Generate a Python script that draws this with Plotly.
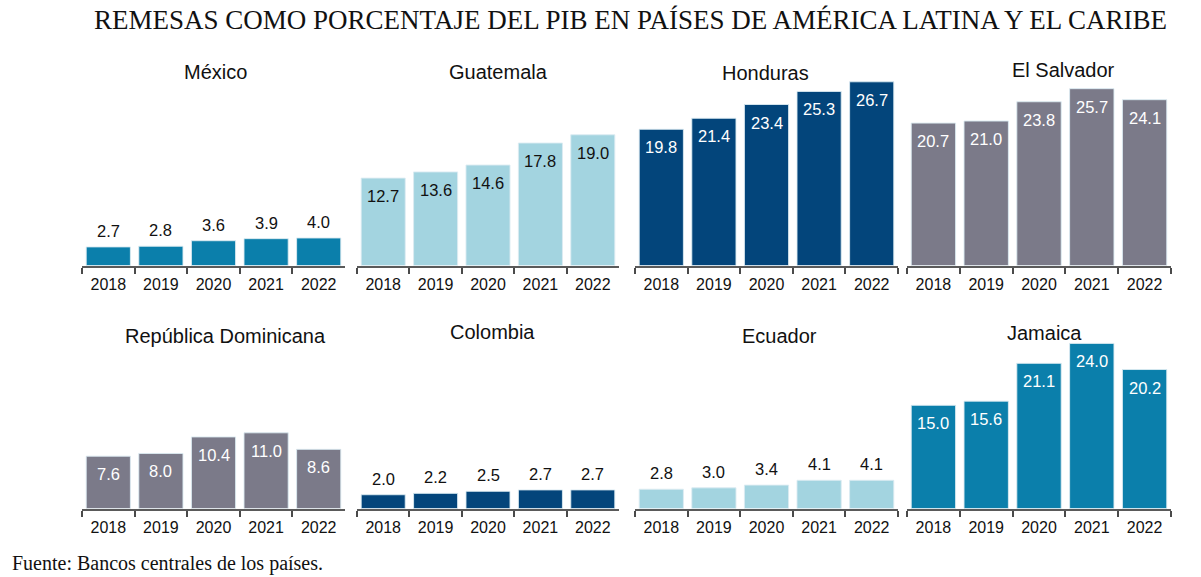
import plotly.graph_objects as go

W, H = 1201, 577

years = ["2018", "2019", "2020", "2021", "2022"]
countries = ["México", "Guatemala", "Honduras", "El Salvador",
             "República Dominicana", "Colombia", "Ecuador", "Jamaica"]
mexico = [2.7, 2.8, 3.6, 3.9, 4.0]
guatemala = [12.7, 13.6, 14.6, 17.8, 19.0]
honduras = [19.8, 21.4, 23.4, 25.3, 26.7]
el_salvador = [20.7, 21.0, 23.8, 25.7, 24.1]
rep_dominicana = [7.6, 8.0, 10.4, 11.0, 8.6]
colombia = [2.0, 2.2, 2.5, 2.7, 2.7]
ecuador = [2.8, 3.0, 3.4, 4.1, 4.1]
jamaica = [15.0, 15.6, 21.1, 24.0, 20.2]
series = [mexico, guatemala, honduras, el_salvador,
          rep_dominicana, colombia, ecuador, jamaica]

TEAL = "#0b7fab"
LIGHT = "#a3d4e0"
NAVY = "#03457b"
GRAY = "#7b7a89"
colors = [TEAL, LIGHT, NAVY, GRAY, GRAY, NAVY, LIGHT, TEAL]
# label mode: 'out' above bar dark, 'in_w' inside white, 'in_d' inside dark
modes = ["out", "in_d", "in_w", "in_w", "in_w", "out", "out", "in_w"]

# panel geometry in pixels
cols_px = [(82, 345), (357, 619), (635, 898), (907, 1171)]
rows_px = [265.5, 508.5]  # axis baseline
YMAX = 28.0
PXU = 6.88
title_pos = [(215, 72), (498, 72), (765, 73), (1063, 70),
             (225, 336), (492, 332), (779, 336), (1044, 333)]

fig = go.Figure()
annotations = []
for i in range(8):
    r, c = divmod(i, 4)
    x0, x1 = cols_px[c]
    yb = rows_px[r]
    yt = yb - YMAX * PXU
    k = "" if i == 0 else str(i + 1)
    xa, ya = "x" + k, "y" + k
    fig.add_trace(go.Bar(
        x=years, y=series[i], xaxis=xa, yaxis=ya,
        marker=dict(color=colors[i], line=dict(color="rgba(220,235,242,0.9)", width=1)),
        showlegend=False, hoverinfo="x+y",
    ))
    fig.layout["xaxis" + k] = dict(
        domain=[x0 / W, x1 / W], anchor=ya, type="category",
        range=[-0.5, 4.5], showline=True, linecolor="#5a5a5a", linewidth=2,
        ticks="outside", tickson="boundaries", ticklen=6, tickcolor="#4a4a4a",
        tickwidth=1.5, showgrid=False, zeroline=False, ticklabelstandoff=3,
        tickfont=dict(family="Liberation Sans, Arial", size=16, color="#111"),
        fixedrange=True,
    )
    fig.layout["yaxis" + k] = dict(
        domain=[1 - yb / H, 1 - yt / H], anchor=xa, range=[0, YMAX],
        visible=False, showgrid=False, zeroline=False, fixedrange=True,
    )
    for j, v in enumerate(series[i]):
        if modes[i] == "out":
            annotations.append(dict(
                x=j, y=v, xref=xa, yref=ya, text=f"{v:.1f}", showarrow=False,
                yanchor="bottom", yshift=5,
                font=dict(family="Liberation Sans, Arial", size=16.5, color="#111")))
        else:
            annotations.append(dict(
                x=j, y=v, xref=xa, yref=ya, text=f"{v:.1f}", showarrow=False,
                yanchor="top", yshift=-7,
                font=dict(family="Liberation Sans, Arial", size=16.5,
                          color="white" if modes[i] == "in_w" else "#111")))
    tx, ty = title_pos[i]
    annotations.append(dict(
        x=tx / W, y=1 - ty / H, xref="paper", yref="paper", text=countries[i],
        showarrow=False, xanchor="center", yanchor="middle",
        font=dict(family="Liberation Sans, Arial", size=20, color="#111")))

annotations.append(dict(
    x=630 / W, y=1 - 20 / H, xref="paper", yref="paper",
    text="REMESAS COMO PORCENTAJE DEL PIB EN PAÍSES DE AMÉRICA LATINA Y EL CARIBE",
    showarrow=False, xanchor="center", yanchor="middle",
    font=dict(family="Liberation Serif, Times New Roman, serif", size=27, color="#111")))
annotations.append(dict(
    x=10 / W, y=1 - 563 / H, xref="paper", yref="paper",
    text="Fuente: Bancos centrales de los países.",
    showarrow=False, xanchor="left", yanchor="middle",
    font=dict(family="Liberation Serif, Times New Roman, serif", size=20, color="#111")))

fig.update_layout(
    width=W, height=H, margin=dict(l=0, r=0, t=0, b=0),
    paper_bgcolor="white", plot_bgcolor="white",
    bargap=0.16, annotations=annotations,
)
fig.write_html("out.html", config={"displayModeBar": False},
               post_script="document.body.style.margin='0';document.body.style.overflow='hidden';")
